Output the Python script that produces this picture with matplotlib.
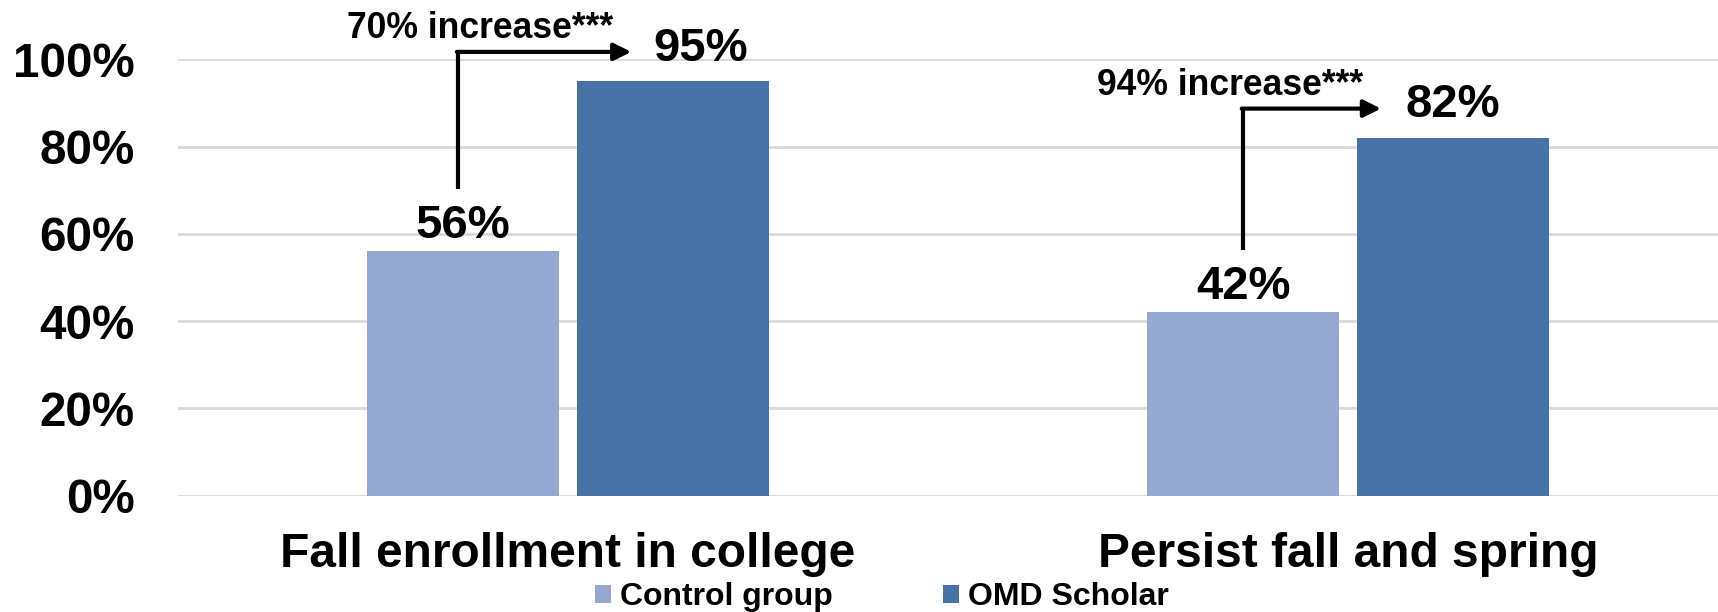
import matplotlib
matplotlib.use("Agg")
import matplotlib.pyplot as plt
from matplotlib import font_manager
import numpy as np

categories = ["Fall enrollment in college", "Persist fall and spring"]
series_names = ["Control group", "OMD Scholar"]
control = [0.56, 0.42]
omd = [0.95, 0.82]
increase_labels = ["70% increase***", "94% increase***"]
yticks = [0.0, 0.2, 0.4, 0.6, 0.8, 1.0]
ytick_labels = ["0%", "20%", "40%", "60%", "80%", "100%"]

c_control = "#95A9D0"
c_omd = "#4672A7"

names = {f.name for f in font_manager.fontManager.ttflist}
base_font = "Liberation Sans" if "Liberation Sans" in names else "DejaVu Sans"
narrow_font = "Liberation Sans Narrow" if "Liberation Sans Narrow" in names else base_font
plt.rcParams["font.family"] = [base_font, "DejaVu Sans"]
plt.rcParams["font.weight"] = "bold"

W, H = 1718, 612
fig = plt.figure(figsize=(W / 100, H / 100), dpi=100)
ax = fig.add_axes([178 / W, (H - 495.7) / H, 1 - 178 / W, (495.7 - 59.3) / H])

x = np.arange(len(categories))
bw = 0.246
off = 0.1345
b1 = ax.bar(x - off, control, bw, color=c_control, label=series_names[0], zorder=3)
b2 = ax.bar(x + off, omd, bw, color=c_omd, label=series_names[1], zorder=3)

ax.set_xlim(-0.5, 1.474)
ax.set_ylim(0, 1.0)
ax.set_yticks(yticks)
ax.set_yticklabels(ytick_labels, fontsize=34.3, fontweight="bold")
ax.set_xticks(x)
ax.set_xticklabels(categories, fontsize=34.5, fontweight="bold")
ax.tick_params(axis="y", length=0, pad=31)
ax.tick_params(axis="x", length=0, pad=26)
ax.yaxis.grid(True, color="#d9d9d9", linewidth=2, zorder=0)
ax.set_axisbelow(True)
for s in ax.spines.values():
    s.set_visible(False)

# value labels
label_dx = [[0, 0], [28, 0]]  # pixel shifts (control, omd) per group
label_dy = [[13, 20], [13, 21]]
for i in range(len(categories)):
    for j, (vals, bars) in enumerate([(control, b1), (omd, b2)]):
        rect = bars[i]
        ax.annotate(f"{vals[i]*100:.0f}%",
                    xy=(rect.get_x() + rect.get_width() / 2, vals[i]),
                    xytext=(label_dx[j][i] * 0.72, label_dy[i][j] * 0.72),
                    textcoords="offset points", ha="center", va="baseline",
                    fontsize=34, fontweight="bold", annotation_clip=False)

# increase arrows
tip_dx = [0.081, 0.042]
for i in range(len(categories)):
    xv = x[i] - off - 0.006 * (1 - i)
    y_bot = control[i] + 0.143
    y_top = omd[i] + 0.067
    ax.plot([xv, xv], [y_bot, y_top], color="black", lw=3, clip_on=False,
            solid_capstyle="butt", zorder=5)
    ax.annotate("", xy=(x[i] + tip_dx[i], y_top), xytext=(xv - 0.002, y_top),
                arrowprops=dict(arrowstyle="-|>", lw=3, color="black",
                                mutation_scale=26, shrinkA=0, shrinkB=0),
                annotation_clip=False, zorder=5)
    ax.text(x[i] + tip_dx[i] - 0.023, y_top + 0.032, increase_labels[i],
            ha="right", va="baseline", fontsize=25.6, fontweight="bold",
            clip_on=False)

leg = fig.legend(handles=[b1, b2], labels=series_names, loc="lower left",
                 bbox_to_anchor=(595 / W, 0.0), ncol=2, frameon=False,
                 prop={"family": narrow_font, "weight": "bold", "size": 23},
                 handlelength=0.5, handleheight=0.5, handletextpad=0.28,
                 columnspacing=3.45, borderpad=0, borderaxespad=0)

fig.savefig("out.png", dpi=100)
